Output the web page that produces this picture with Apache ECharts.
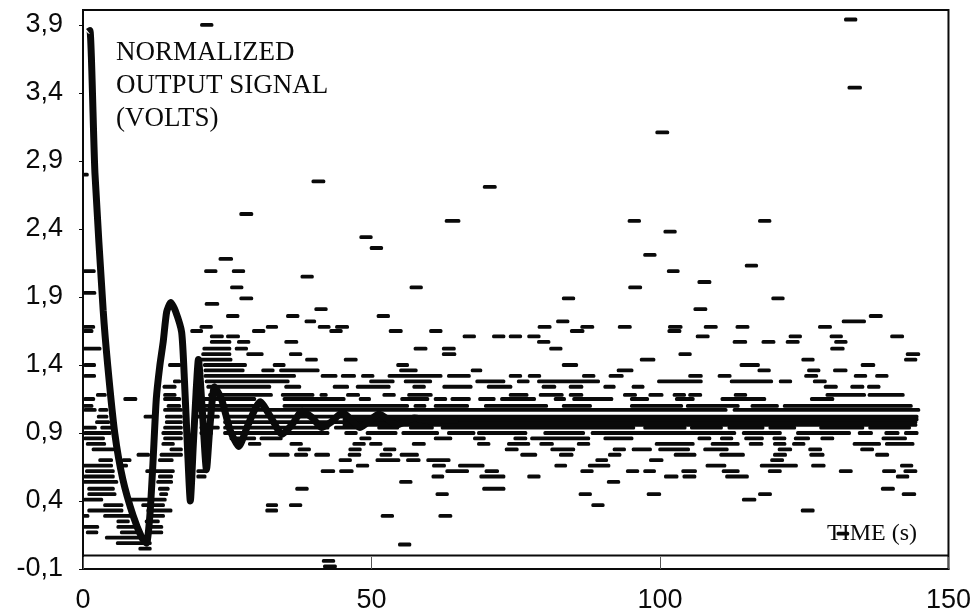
<!DOCTYPE html>
<html><head><meta charset="utf-8">
<style>html,body{margin:0;background:#fff}#c{width:974px;height:614px}</style>
<script src="https://cdn.jsdelivr.net/npm/echarts@6/dist/echarts.min.js"></script>
</head><body><div id="c"></div>
<script>
const xTicks = [0, 50, 100, 150];
const yTicks = [-0.1, 0.4, 0.9, 1.4, 1.9, 2.4, 2.9, 3.4, 3.9];
const baselineTimes = [0, 150];
const baselineValues = [0, 0];
const curveTimes = [0.9,1.2,2.07,3.5,4.3,5.5,6.9,8.7,10.2,11,11.6,12.1,12.7,13.3,13.9,14.5,15.2,16,17.1,17.6,18.1,18.6,19.1,19.6,20,20.7,21.4,22,22.8,24,25.5,27,28.5,30.7,32.5,34.5,36.2,38,39.8,41.3,43,45,48,51.3,54.4,57.4,60,65];
const curveValues = [3.85,3.86,2.81,1.8,1.39,0.9,0.56,0.29,0.13,0.09,0.3,0.66,1.15,1.39,1.57,1.79,1.86,1.8,1.64,1.27,0.8,0.4,0.8,1.2,1.44,1.05,0.63,0.95,1.24,1.15,0.92,0.8,0.95,1.13,1.02,0.89,0.96,1.06,1.01,0.94,0.98,1.05,0.94,1.04,0.96,1.01,0.99,1.0];
const dashLevels = [-0.08,-0.04,0.05,0.08,0.09,0.13,0.16,0.17,0.21,0.25,0.29,0.33,0.37,0.41,0.45,0.49,0.54,0.58,0.62,0.66,0.70,0.74,0.78,0.82,0.86,0.90,0.94,0.96,0.98,1.00,1.02,1.07,1.10,1.15,1.18,1.24,1.28,1.32,1.36,1.40,1.44,1.48,1.52,1.57,1.61,1.65,1.68,1.72,1.76,1.81,1.85,1.89,1.93,1.97,2.01,2.05,2.09,2.13,2.18,2.21,2.26,2.34,2.38,2.46,2.51,2.71,2.75,2.80,3.11,3.44,3.90,3.94];
const dashSpans = [
[41.6,44],
[41.4,43.7],
[9.6,11.9],
[54.6,56.9],
[5.7,11.9],
[3.8,10.4],
[130.6,132.8],
[0.5,2.65,6.4,9.9,11.3,13.9],
[0,2.8,5.8,9.9,11,13.9],
[5.8,8.1,10.7,13.3],
[0,1.1,3.5,8.4,11.6,14.2,51.6,53.9,61.6,64],
[0.75,7,11,15.5,31.6,33.8,124.4,126.8],
[3.5,7,10.1,14.2,31.7,33.8,35.7,38,88.1,90.4],
[0,3.5,8.1,14.5,114.2,116.7],
[0.75,5.8,13.2,14.75,61.1,63.4,85.9,88.2,97.7,100.2,117,119.4,141.9,144.4],
[0.75,5.5,13,15,36.8,39.1,69.2,73.2,138.3,140.7],
[0,6.1,12.7,15.6,54.8,57.1,90.8,93.1],
[0.06,5.5,13,15.6,19.65,21.4,60.4,62.6,68.7,73.2,77,79.3,100.7,103.2,103.9,106.3,111.3,115.4,140.9,143.2],
[0.35,5.5,10.8,15.9,19.65,21.4,41.2,43.7,44.4,46.9,62.8,66.9,69.6,72.1,86.2,88.5,94.1,96.4,97.1,99.3,103.7,106.4,110.7,113.8,118.7,121.1,131,133.4,138.5,140.9,142.2,144.6],
[0,5.2,6.7,7.8,47.3,49.6,60.5,62.9,65,69.6,81.7,83.9,87.5,91.4,107.9,111.5,117.3,123.9,126.2,128.7,141.6,143.9],
[2.65,5.2,6.7,8.4,13,15.7,44.3,46.6,50.7,55,56,58.5,59.5,63.7,88.8,91,98.1,100.6,119.1,121.5],
[9.3,11.6,13.3,17.3,32.2,35.8,36.6,39,40.1,42.8,45.9,48.2,51.4,53.6,54.9,58.2,75.8,78.7,82.5,85,91,93.3,102.4,106.3,110.3,114.7,119.6,122,125.9,128.5,137.3,139.7],
[1.5,5.5,15,17.3,37.2,39.5,46,48.3,52,54.3,73.1,75.5,81,85.3,91.8,94.1,95.1,98.6,99.7,105.2,107.5,111.9,120.4,122.9,125.7,128.1,134.7,137.1],
[0.5,4,13.6,15.9,28.6,30.9,35.8,38.1,46.7,49,49.6,51.9,57,59.4,68.3,70.6,73.5,77.5,79.1,81.6,85.6,87.9,99.1,106,108.8,113.8,115.4,117.9,119.6,121.9,122.9,125.2,133.4,138.3,139,144.1],
[0.06,3.8,13.9,17.3,25.4,30,30.6,34.6,47.9,50,60.8,64,67.6,69.8,74.6,77,77.5,87.9,90.2,95.4,106.5,108.9,110.4,112.7,114.6,118,119.5,121.9,123.2,126,127.8,130.2,138.4,142.8],
[0.06,4.96,13.6,17.3,20.2,22.5,24.3,42.7,45.3,47.6,49,54.5,55.2,61.7,63.1,68,68.3,77,79.8,87,88,113.2,114.2,121.1,123.6,133.1,134.3,136.9,138.9,141.5,142.3,144.8],
[0,2.4,3,5,13.9,17.3,20.2,23.7,24.3,42.7,43.5,47.9,51,54.8,56.5,60.8,62,95.7,97.1,104.6,105.2,110.9,111.7,118.1,118.8,123.6,127.6,135.4,136.1,143.5],
[45,144.6],
[2.1,4.7,14.2,17.3,24.3,144.6],
[45,144.8],
[2.4,4.4,10.5,12.4,14.2,17.3,19.1,23.7,24.3,144.8],
[0.06,2.36,2.65,4.38,13.9,17.3,19.1,111.7,112.6,145.1],
[0,1.8,14.5,17,20.8,31.7,34.6,56.5,57.3,59.5,60.8,66.9,69.5,80.6,83,88.2,94.8,104,104.5,113.8,115.7,120.6,121.3,143.8],
[0.06,2.1,7,9.4,13.9,17,20.9,30,34.6,45.5,47.8,49.9,55,60,60.8,63.1,63.7,67.2,68.5,71.5,72.3,78.5,81.6,83.7,84.8,91.9,94.8,98.1,102.6,106,110.5,118.4,126,130.2],
[2.25,4.1,13.9,16.2,21.7,32.9,34.3,40.1,41,42.4,45.6,48,51.9,54.2,56.2,60.6,73.8,77.2,79,83.3,84.2,86.7,93.6,96,98,100.6,102.2,104.5,104.9,107.3,112.8,115.1,128.7,135.7,136,142.4],
[13.8,16.2,21.4,32.6,34.9,37.8,43.3,46.1,47.3,53.3,57.1,59.4,62.3,67.5,70,74.4,79.5,82,84.2,86.7,90.2,92.3,95.1,97.3,128.4,130.8,133,135.4,135.9,138.2],
[15.6,17,21.1,35.8,49.6,54,55.6,60.5,68,73.2,75.2,77.4,78.7,89.6,99.5,107.4,112.1,119.6,120.6,122.9,126.5,128.9],
[0.06,2.25,20.9,36.9,41.2,44.1,44.7,47.3,48.2,50.5,52.8,62.3,63.1,67.2,73.8,76.1,77.1,79.4,86.5,88.8,91.1,93.7,104.9,107.4,110,112.4,125,127.4,133.6,135.9,137.3,139.6],
[20.9,28,30.9,33.2,34,41,54.8,58,67.2,69.2,92.5,95.4,116.9,119.2,125.5,127.8,130,132.5],
[0.06,2.25,14.75,17,20.8,28.4,32.9,35.1,54.3,56.5,83,85.8,113.8,117.3,134.8,137.3],
[20.2,25.9,38.5,40.7,45.2,47.6,96.5,99.2,124.5,126.8,142.3,144.6],
[20.5,25.7,28.3,31.3,35.7,38,62.2,64.7,103.2,105.5,142.6,145.1],
[0,3.2,20.7,25.7,26.3,28.6,57.3,59.7,62.2,64.6,80.8,83.1,129.5,132],
[22,25.7,26.7,29,34.9,37.3,78.7,81,112.6,115.1,117.6,120,121.8,124.2,130.2,132.5],
[22,24.4,24.8,27.2,65.8,68.1,70.9,73.2,73.8,76.1,77,79.3,106.2,108.6,122.3,124.6,129.4,131.7,139.9,142.3],
[0,1.8,18.6,20.8,29.3,31.6,42.7,45,53,55.4,60,62.3,84.4,86.9,101.3,103.7],
[0,2.1,20.2,22.5,31.7,33.8,40.7,42.9,43.7,46.1,78.8,81.2,86.2,88.6,92.7,95.1,101.4,103.9,107.6,110,113.1,115.5,127.4,129.8],
[38.4,40.4,82,84.3,131.5,135.7],
[24.8,27.1,35.2,37.5,50.9,53.2,136.2,138.6],
[40.1,42.4,105.8,108.2],
[21.1,23.6],
[27.1,29.5,83,85.3,119.3,121.6],
[0,2.3],
[25.5,27.8,56.6,58.9,94.5,96.9],
[106.5,108.9],
[37.7,40],
[0,2.2,21,23.3,25.8,28.1,101.2,103.4],
[114.7,117],
[23.5,26],
[97.1,99.4],
[49.7,52],
[47.9,50.2],
[100.6,102.9],
[62.7,65.4,94.4,96.7,117,119.3],
[27.1,29.5],
[69.3,71.7],
[39.6,42],
[0,1],
[99.2,101.6],
[132.5,135],
[20.3,22.6],
[131.9,134.2]
];

const INK = '#0a0a0a';
const dashData = [];
dashLevels.forEach((v, i) => {
  const s = dashSpans[i];
  for (let k = 0; k < s.length; k += 2) dashData.push([s[k], s[k + 1], v]);
});
const chart = echarts.init(document.getElementById('c'), null, {renderer: 'canvas'});
chart.setOption({
  animation: false,
  backgroundColor: '#fff',
  grid: {left: 83, top: 10, width: 868, height: 560, show: true, borderColor: INK, borderWidth: 2, backgroundColor: '#fff'},
  xAxis: {
    type: 'value', min: 0, max: 150, interval: 50,
    axisLine: {onZero: false, lineStyle: {color: INK, width: 2}},
    axisTick: {inside: true, length: 12, lineStyle: {color: '#555', width: 1}, customValues: xTicks},
    axisLabel: {customValues: xTicks, margin: 18, color: INK, fontFamily: 'Liberation Sans', fontSize: 27},
    splitLine: {show: false}
  },
  yAxis: {
    type: 'value', min: -0.1, max: 4.01,
    axisLine: {onZero: false, lineStyle: {color: INK, width: 2}},
    axisTick: {length: 4, lineStyle: {color: INK, width: 1}, customValues: yTicks},
    axisLabel: {customValues: yTicks, margin: 20, color: INK, fontFamily: 'Liberation Sans', fontSize: 27,
      formatter: v => v.toFixed(1).replace('.', ',')},
    splitLine: {show: false}
  },
  graphic: [
    {type: 'text', left: 116, top: 39, style: {text: 'NORMALIZED', fill: INK, font: '27px "Liberation Serif"'}},
    {type: 'text', left: 116, top: 72, style: {text: 'OUTPUT SIGNAL', fill: INK, font: '27px "Liberation Serif"'}},
    {type: 'text', left: 116, top: 105, style: {text: '(VOLTS)', fill: INK, font: '27px "Liberation Serif"'}},
    {type: 'text', left: 827, top: 522, style: {text: 'TIME (s)', fill: INK, font: '24px "Liberation Serif"'}}
  ],
  series: [
    {
      type: 'line', symbol: 'none', silent: true,
      data: baselineTimes.map((t, i) => [t, baselineValues[i]]),
      lineStyle: {color: INK, width: 2}
    },
    {
      type: 'custom', data: dashData, encode: {x: [0, 1], y: 2}, silent: true,
      renderItem: (params, api) => {
        const a = api.coord([api.value(0), api.value(2)]);
        const b = api.coord([api.value(1), api.value(2)]);
        return {type: 'rect', shape: {x: a[0], y: a[1] - 1.9, width: b[0] - a[0], height: 3.8, r: 1.5}, style: {fill: INK}};
      }
    },
    {
      type: 'line', symbol: 'none', smooth: 0.2, silent: true, z: 5,
      data: curveTimes.map((t, i) => [t, curveValues[i]]),
      lineStyle: {color: INK, width: 7}
    }
  ]
});
</script></body></html>
